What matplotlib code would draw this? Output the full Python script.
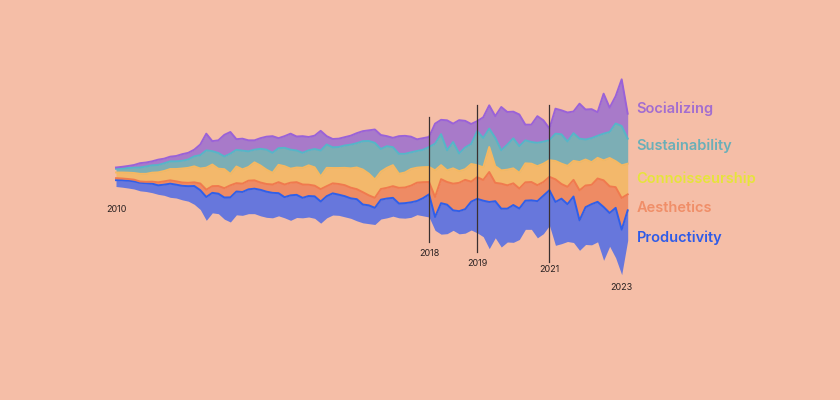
import numpy as np
import matplotlib
matplotlib.use("Agg")
import matplotlib.pyplot as plt

# layer thickness per sample (arbitrary units), left -> right
socializing = [4, 5, 6, 8, 13, 12, 12, 16, 14, 14, 16, 20, 20, 20,
               32, 50, 30, 38, 65, 65, 32, 36, 33, 28, 32, 39, 50, 30, 35, 48, 42, 50, 40, 40,
               59, 25, 25, 25, 25, 27, 30, 30, 32, 40, 42, 30, 28, 53, 54, 47, 35, 35, 30,
               60, 43, 90, 55, 100, 80, 60, 30, 62, 70, 65, 130, 98, 80, 95, 47, 52, 80, 64,
               35, 75, 72, 87, 65, 105, 90, 87, 71, 120, 73, 82, 140, 75]
sustainability = [11, 12, 14, 16, 19, 22, 22, 22, 23, 23, 23, 23, 25, 30,
                  40, 52, 40, 47, 38, 61, 50, 56, 47, 38, 50, 60, 60, 50, 55, 57, 51, 45, 45, 55,
                  78, 70, 62, 63, 67, 71, 73, 85, 98, 110, 68, 65, 54, 60, 56, 50, 50, 52, 60,
                  80, 93, 60, 79, 53, 65, 60, 102, 88, 55, 85, 60, 75, 90, 80, 69, 65, 70, 66,
                  60, 82, 88, 73, 83, 70, 60, 72, 66, 80, 78, 113, 118, 75]
connoisseurship = [17, 18, 19, 20, 23, 24, 27, 30, 31, 34, 37, 42, 45, 48,
                   45, 66, 65, 52, 57, 34, 50, 43, 41, 54, 51, 43, 35, 52, 55, 42, 44, 50, 58, 55,
                   38, 55, 46, 48, 52, 58, 65, 68, 65, 55, 52, 60, 63, 42, 45, 50, 45, 45, 45,
                   80, 42, 35, 46, 35, 32, 53, 36, 38, 75, 50, 40, 47, 45, 47, 57, 55, 57, 55,
                   50, 55, 61, 63, 57, 85, 78, 68, 62, 60, 85, 78, 98, 92]
aesthetics = [6, 5, 5, 5, 4, 4, 6, 9, 10, 10, 10, 10, 10, 11,
              20, 22, 20, 23, 28, 36, 25, 25, 26, 25, 22, 23, 25, 33, 38, 38, 38, 40, 34, 32,
              37, 30, 30, 32, 33, 32, 30, 37, 30, 30, 32, 32, 35, 47, 47, 50, 55, 48, 37,
              60, 72, 68, 80, 85, 88, 60, 65, 62, 90, 55, 75, 70, 65, 60, 55, 55, 48, 41,
              40, 68, 44, 52, 50, 90, 65, 58, 70, 80, 80, 62, 95, 48]
productivity = [19, 21, 22, 23, 24, 25, 27, 27, 32, 41, 40, 42, 45, 55,
                58, 70, 60, 60, 65, 74, 70, 70, 73, 75, 78, 77, 75, 68, 62, 75, 68, 60, 63, 66,
                65, 65, 65, 62, 62, 60, 65, 55, 55, 50, 58, 58, 55, 43, 45, 45, 41, 53, 68,
                40, 93, 87, 60, 68, 72, 85, 102, 108, 140, 110, 115, 100, 112, 93, 86, 87, 110, 114,
                106, 130, 135, 112, 138, 90, 112, 122, 120, 160, 100, 150, 135, 90]

labels = ["Productivity", "Aesthetics", "Connoisseurship", "Sustainability", "Socializing"]
series = [productivity, aesthetics, connoisseurship, sustainability, socializing]

# year markers as sample indices
year_first, year_last = 2010, 2023
idx_first, idx_last = 0, 84
year_marks = [2018, 2019, 2021]
mark_idx = [52, 60, 72]

BG = "#F5BEA7"
FILLS = ["#6777DC", "#EE8B64", "#F3B86B", "#7CAEB5", "#A87AC9"]
EDGES = ["#2F5FEA", "#F07A4E", "#F5B862", "#55B6C8", "#9A62D8"]
TEXT = ["#2E5BE8", "#F08E68", "#E6E43A", "#6AAFB8", "#A26DD0"]

data = np.array(series, dtype=float)
x = np.arange(data.shape[1])
base = -data.sum(axis=0) / 2
stack = base + np.vstack([np.zeros(len(x)), np.cumsum(data, axis=0)])

fig = plt.figure(figsize=(8.4, 4.0), dpi=100, facecolor=BG)
ax = fig.add_axes([0, 0, 1, 1])
ax.set_facecolor(BG)

for i in range(len(series)):
    ax.fill_between(x, stack[i], stack[i + 1], color=FILLS[i], lw=0)
for i in range(len(series)):
    ax.plot(x, stack[i + 1], color=EDGES[i], lw=1.4, solid_joinstyle="round")

# year lines
line_span = [(180, -195), (216, -225), (216, -255)]
for idx, (y0, y1) in zip(mark_idx, line_span):
    ax.plot([idx, idx], [y0, y1], color="#3a3030", lw=0.9)

year_pos = [-96, -231, -261, -276, -330]
for yr, idx, yy in zip([year_first] + year_marks + [year_last],
                       [idx_first] + mark_idx + [idx_last], year_pos):
    ax.text(idx, yy, str(yr), ha="center", va="center", fontsize=6.5,
            color="#2a2222", family="Inter")

label_y = [-183, -93, -6, 93, 204]
for name, c, yy in zip(labels, TEXT, label_y):
    ax.text(86.5, yy, name, ha="left", va="center", fontsize=10.5,
            color=c, family="Inter", fontweight="semibold")

ax.set_xlim(-116 / 6.02, (840 - 116) / 6.02)
ax.set_ylim(-669, 531)
ax.axis("off")

fig.savefig("out.png", dpi=100, facecolor=BG)
